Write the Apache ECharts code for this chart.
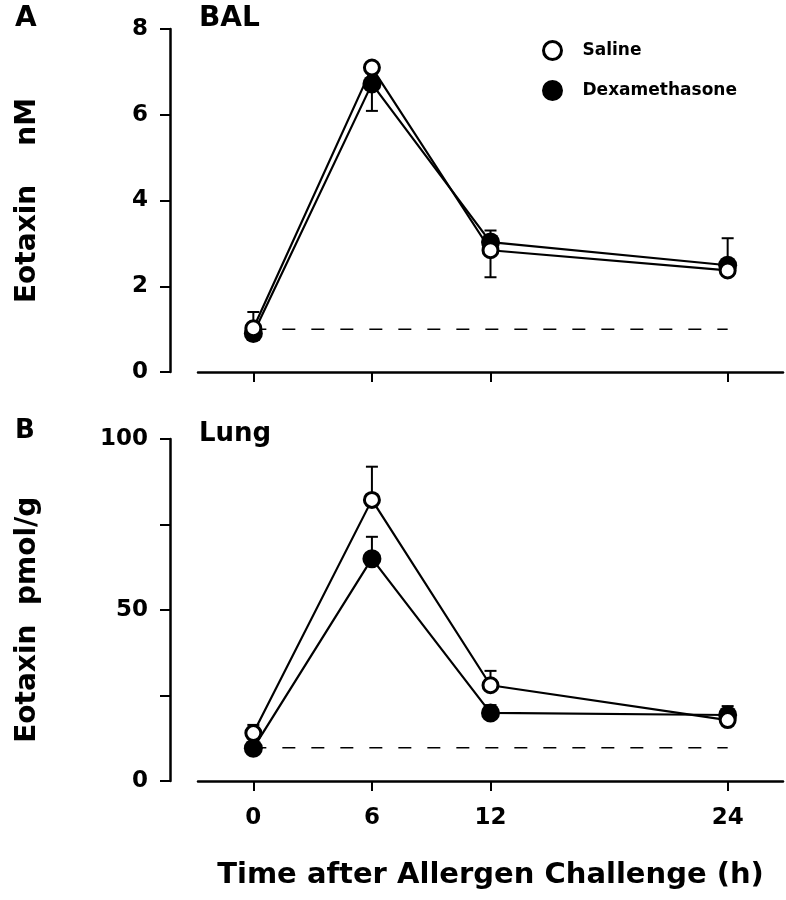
<!DOCTYPE html>
<html><head><meta charset="utf-8">
<script src="https://cdn.jsdelivr.net/npm/echarts@6/dist/echarts.min.js"></script>
<style>html,body{margin:0;padding:0;background:#fff}#c{width:786px;height:900px}</style>
</head><body><div id="c"></div>
<script>
const times = [0, 6, 12, 24];
const xTickValues = [0, 6, 12, 24];
const balSaline = [1.02, 7.1, 2.84, 2.37];
const balDex = [0.9, 6.72, 3.03, 2.49];
const balSalineErrEnd = [1.4, null, 2.21, null];
const balDexErrEnd = [null, 6.09, 3.3, 3.12];
const balBaseline = 1.0;
const lungSaline = [14.0, 82.2, 28.0, 17.8];
const lungDex = [9.6, 65.0, 19.9, 19.3];
const lungSalineErrEnd = [16.4, 91.9, 32.2, null];
const lungDexErrEnd = [null, 71.4, 22.2, 21.9];
const lungBaseline = 9.7;
const lungYLabelValues = [0, 50, 100];

const FONT = 'DejaVu Sans';
const pts = (ys) => times.map((t, i) => [t, ys[i]]);
const errs = (ys, ends) => times.map((t, i) => ends[i] == null ? null : [t, ys[i], ends[i]]).filter(Boolean);

function errRender(params, api) {
  const x = api.value(0), v = api.value(1), e = api.value(2);
  const p1 = api.coord([x, v]), p2 = api.coord([x, e]);
  return { type: 'group', children: [
    { type: 'line', shape: { x1: p1[0], y1: p1[1], x2: p2[0], y2: p2[1] }, style: { stroke: '#000', lineWidth: 2 } },
    { type: 'line', shape: { x1: p2[0] - 6, y1: p2[1], x2: p2[0] + 6, y2: p2[1] }, style: { stroke: '#000', lineWidth: 2 } }
  ]};
}

function xAxis(idx, withLabels) {
  return {
    type: 'value', gridIndex: idx, min: -2.8, max: 26.8,
    axisLine: { show: true, onZero: false, lineStyle: { color: '#000', width: 2.5 } },
    axisTick: { show: true, length: 10, customValues: xTickValues, lineStyle: { color: '#000', width: 2 } },
    axisLabel: { show: withLabels, customValues: xTickValues, margin: 26, color: '#000', fontFamily: FONT, fontWeight: 'bold', fontSize: 23 },
    splitLine: { show: false },
    name: withLabels ? 'Time after Allergen Challenge (h)' : '',
    nameLocation: 'middle', nameGap: 80,
    nameTextStyle: { color: '#000', fontFamily: FONT, fontWeight: 'bold', fontSize: 29 }
  };
}

function yAxis(idx, max, interval, name, labelVals) {
  return {
    type: 'value', gridIndex: idx, min: 0, max: max, interval: interval, offset: 28,
    axisLine: { show: true, onZero: false, lineStyle: { color: '#000', width: 2.5 } },
    axisTick: { show: true, length: 10, lineStyle: { color: '#000', width: 2 } },
    axisLabel: Object.assign({ margin: 22, color: '#000', fontFamily: FONT, fontWeight: 'bold', fontSize: 23 },
      labelVals ? { customValues: labelVals } : {}),
    splitLine: { show: false },
    name: name, nameLocation: 'middle', nameGap: 128, nameRotate: 90,
    nameTextStyle: { color: '#000', fontFamily: FONT, fontWeight: 'bold', fontSize: 28 }
  };
}

function group(idx, sal, dex, salE, dexE, base) {
  return [
    { type: 'line', xAxisIndex: idx, yAxisIndex: idx, data: [[0, base], [24, base]], symbol: 'none', silent: true,
      lineStyle: { color: '#000', width: 1.5, type: [13, 16] }, z: 1 },
    { type: 'custom', xAxisIndex: idx, yAxisIndex: idx, renderItem: errRender, data: errs(sal, salE), encode: { x: 0, y: [1, 2] }, z: 1 },
    { type: 'custom', xAxisIndex: idx, yAxisIndex: idx, renderItem: errRender, data: errs(dex, dexE), encode: { x: 0, y: [1, 2] }, z: 1 },
    { name: 'Dexamethasone', type: 'line', xAxisIndex: idx, yAxisIndex: idx, data: pts(dex), symbol: 'circle', symbolSize: 19,
      lineStyle: { color: '#000', width: 2.2 }, itemStyle: { color: '#000', borderColor: '#000', borderWidth: 0 }, z: 3 },
    { name: 'Saline', type: 'line', xAxisIndex: idx, yAxisIndex: idx, data: pts(sal), symbol: 'circle', symbolSize: 15,
      lineStyle: { color: '#000', width: 2.2 }, itemStyle: { color: '#fff', borderColor: '#000', borderWidth: 3 }, z: 4 }
  ];
}

const chart = echarts.init(document.getElementById('c'), null, { renderer: 'canvas' });
chart.setOption({
  animation: false,
  backgroundColor: '#fff',
  title: [
    { text: 'A', left: 10, top: 0, textStyle: { fontFamily: FONT, fontWeight: 'bold', fontSize: 28, color: '#000' } },
    { text: 'BAL', left: 194, top: 0, textStyle: { fontFamily: FONT, fontWeight: 'bold', fontSize: 28, color: '#000' } },
    { text: 'B', left: 10, top: 413, textStyle: { fontFamily: FONT, fontWeight: 'bold', fontSize: 26, color: '#000' } },
    { text: 'Lung', left: 194, top: 416, textStyle: { fontFamily: FONT, fontWeight: 'bold', fontSize: 26, color: '#000' } }
  ],
  legend: {
    data: ['Saline', 'Dexamethasone'], orient: 'vertical', left: 537, top: 35,
    icon: 'circle', itemWidth: 18, itemHeight: 18, itemGap: 19,
    itemStyle: { borderWidth: 3, borderColor: '#000' },
    textStyle: { fontFamily: FONT, fontWeight: 'bold', fontSize: 17, color: '#000', padding: [0, 0, 0, 16] },
    selectedMode: false
  },
  grid: [
    { left: 198, right: 3, top: 29, height: 343 },
    { left: 198, right: 3, top: 439, height: 342 }
  ],
  xAxis: [xAxis(0, false), xAxis(1, true)],
  yAxis: [yAxis(0, 8, 2, 'Eotaxin    nM'), yAxis(1, 100, 25, 'Eotaxin  pmol/g  ', lungYLabelValues)],
  series: [].concat(
    group(0, balSaline, balDex, balSalineErrEnd, balDexErrEnd, balBaseline),
    group(1, lungSaline, lungDex, lungSalineErrEnd, lungDexErrEnd, lungBaseline)
  )
});
</script></body></html>
